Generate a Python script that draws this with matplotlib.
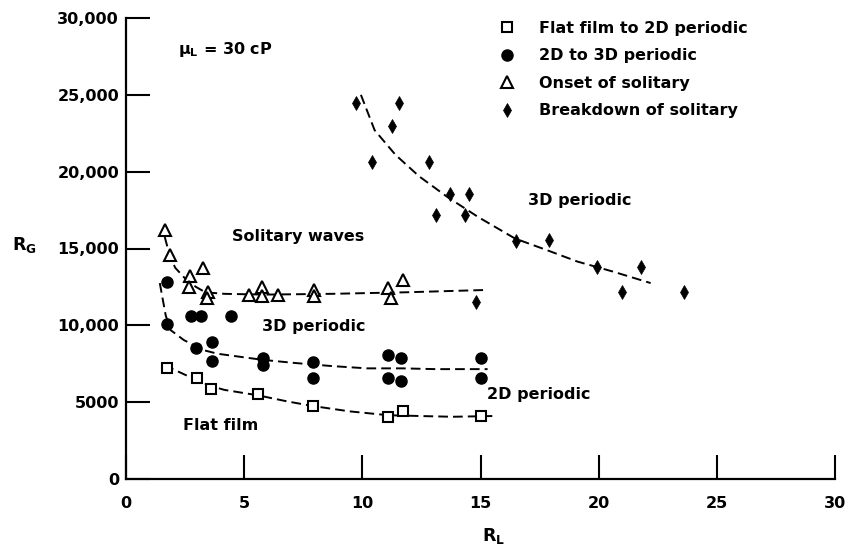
import matplotlib
matplotlib.use("Agg")
import matplotlib.pyplot as plt

# Flat film to 2D periodic transition
sq_x = [1.75, 3.0, 3.6, 5.6, 7.9, 11.1, 11.7, 15.0]
sq_y = [7200, 6550, 5850, 5500, 4750, 4050, 4400, 4100]

# 2D to 3D periodic transition
ci_x = [1.75, 1.75, 2.76, 3.16, 4.44, 2.96, 3.64, 3.64, 5.8, 5.8,
        7.9, 7.9, 11.1, 11.65, 11.1, 11.65, 15.0, 15.0]
ci_y = [12800, 10100, 10600, 10600, 10600, 8500, 8900, 7700, 7900, 7400,
        7600, 6600, 8100, 7900, 6600, 6400, 7900, 6600]

# Onset of solitary waves
tr_x = [1.64, 1.88, 2.72, 3.24, 2.68, 3.48, 3.44, 5.2, 5.75, 5.75,
        6.45, 7.95, 7.95, 11.1, 11.7, 11.2]
tr_y = [16200, 14600, 13200, 13700, 12500, 12200, 11800, 12000, 12500, 11900,
        12000, 12300, 11900, 12400, 12950, 11800]

# Breakdown of solitary waves
di_x = [9.72, 11.57, 11.26, 10.4, 12.8, 13.7, 14.5, 13.1, 14.35, 16.5,
        17.9, 19.95, 21.8, 21.0, 23.6, 14.8]
di_y = [24500, 24500, 23000, 20600, 20600, 18550, 18550, 17200, 17200, 15500,
        15550, 13800, 13800, 12200, 12200, 11500]

# Hand-drawn boundary curves between regimes
sq_curve_x = [1.63, 2.83, 3.49, 4.16, 5.57, 6.82, 7.9, 9.47, 11.1, 12.4, 13.8, 15.6]
sq_curve_y = [7400, 6550, 6100, 5800, 5450, 5050, 4750, 4400, 4150, 4100, 4050, 4100]

ci_curve_x = [1.43, 1.56, 1.68, 1.88, 2.44, 3.24, 3.88, 4.84, 5.8, 7.15,
              8.7, 10.2, 11.7, 13.1, 15.3]
ci_curve_y = [12750, 11650, 10650, 9700, 9050, 8400, 8150, 7950, 7750, 7550,
              7350, 7200, 7200, 7150, 7150]

tr_curve_x = [1.64, 1.84, 2.08, 2.56, 2.96, 3.36, 4.16, 5.87, 8.7, 11.83, 15.2]
tr_curve_y = [15750, 14600, 13750, 12950, 12500, 12150, 12050, 12000, 12050, 12150, 12300]

di_curve_x = [9.94, 10.52, 11.4, 12.4, 13.6, 14.9, 16.46, 17.8, 19.1, 20.6, 22.2]
di_curve_y = [25000, 22700, 21100, 19700, 18350, 17050, 15650, 14900, 14150, 13500, 12750]

x_ticks = [0, 5, 10, 15, 20, 25, 30]
x_tick_labels = ["0", "5", "10", "15", "20", "25", "30"]
y_ticks = [0, 5000, 10000, 15000, 20000, 25000, 30000]
y_tick_labels = ["0", "5000", "10,000", "15,000", "20,000", "25,000", "30,000"]

legend_labels = ["Flat film to 2D periodic", "2D to 3D periodic",
                 "Onset of solitary", "Breakdown of solitary"]

FS = 11.5
plt.rcParams["font.family"] = ["DejaVu Sans"]
plt.rcParams["font.weight"] = "bold"
plt.rcParams["mathtext.fontset"] = "dejavusans"

fig = plt.figure(figsize=(8.5, 5.53), dpi=100)
ax = fig.add_axes([126 / 850, 1 - 479 / 553, 709 / 850, 461 / 553])

dash_kw = dict(color="black", lw=1.4, dashes=(5, 2.6))
ax.plot(sq_curve_x, sq_curve_y, **dash_kw)
ax.plot(ci_curve_x, ci_curve_y, **dash_kw)
ax.plot(tr_curve_x, tr_curve_y, **dash_kw)
ax.plot(di_curve_x, di_curve_y, **dash_kw)

h_sq, = ax.plot(sq_x, sq_y, ls="none", marker="s", ms=7.2, mfc="white",
                mec="black", mew=1.5, zorder=3)
h_ci, = ax.plot(ci_x, ci_y, ls="none", marker="o", ms=8, mfc="black",
                mec="black", zorder=3)
h_tr, = ax.plot(tr_x, tr_y, ls="none", marker="^", ms=9, mfc="white",
                mec="black", mew=1.5, zorder=3)
h_di, = ax.plot(di_x, di_y, ls="none", marker="d", ms=7.5, mfc="black",
                mec="black", mew=0.5, zorder=3)

ax.set_xlim(0, 30)
ax.set_ylim(0, 30000)
ax.set_xticks(x_ticks)
ax.set_xticklabels(x_tick_labels, fontsize=FS, fontweight="bold")
ax.set_yticks(y_ticks)
ax.set_yticklabels(y_tick_labels, fontsize=FS, fontweight="bold")
ax.tick_params(direction="in", length=17, width=1.5, color="black")
ax.tick_params(axis="x", pad=12)
ax.tick_params(axis="y", pad=5)
for side in ("top", "right"):
    ax.spines[side].set_visible(False)
for side in ("left", "bottom"):
    ax.spines[side].set_linewidth(1.6)

# Regime annotations
txt_kw = dict(fontsize=FS, fontweight="bold", ha="left", va="center")
ax.text(2.2, 27980, r"$\mathbf{\mu}_{\mathbf{L}}$ = 30 cP", **txt_kw)
ax.text(4.49, 15750, "Solitary waves", **txt_kw)
ax.text(5.76, 9950, "3D periodic", **txt_kw)
ax.text(2.41, 3450, "Flat film", **txt_kw)
ax.text(15.28, 5470, "2D periodic", **txt_kw)
ax.text(17.01, 18150, "3D periodic", **txt_kw)

fig.text(12 / 850, 1 - 245 / 553, r"$\mathbf{R_G}$", fontsize=FS + 1,
         ha="left", va="center")
fig.text(493 / 850, 1 - 536 / 553, r"$\mathbf{R_L}$", fontsize=FS + 1,
         ha="center", va="center")

leg = ax.legend([h_sq, h_ci, h_tr, h_di], legend_labels,
                loc="upper left", bbox_to_anchor=(499 / 850, 1 - 21 / 553),
                bbox_transform=fig.transFigure, frameon=False,
                borderpad=0, borderaxespad=0, handlelength=1.0,
                handletextpad=1.5, labelspacing=0.78,
                prop=dict(size=FS, weight="bold"))

fig.savefig("out.png", dpi=100)
